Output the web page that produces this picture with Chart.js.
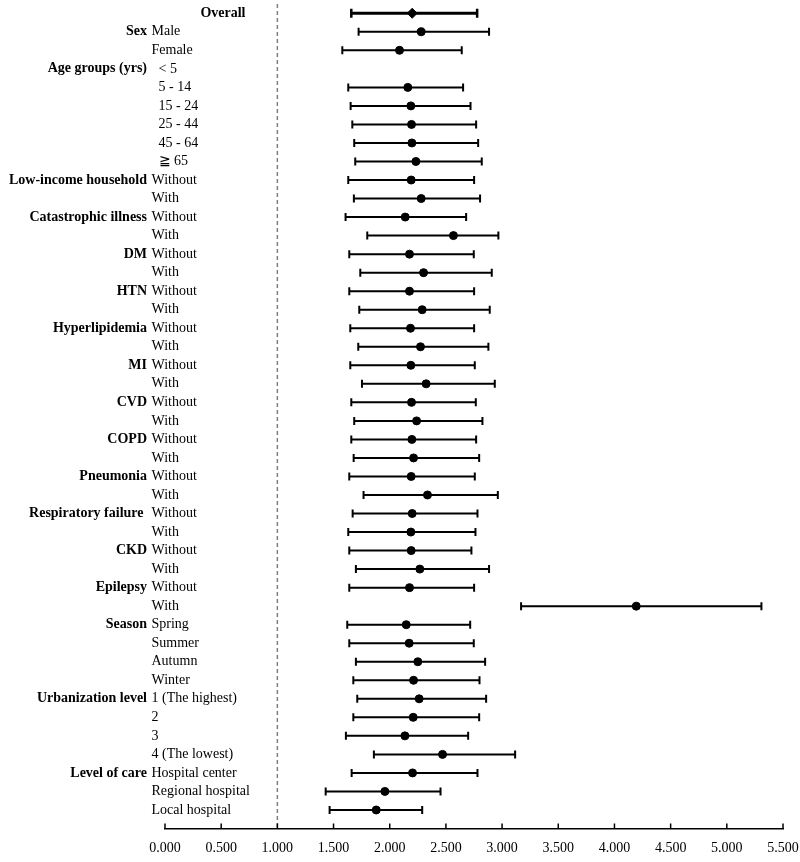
<!DOCTYPE html>
<html><head><meta charset="utf-8">
<script src="https://cdn.jsdelivr.net/npm/chart.js@4/dist/chart.umd.min.js"></script>
<style>html,body{margin:0;padding:0;background:#fff}#wrap{width:800px;height:862px;position:relative}</style>
</head><body><div id="wrap"><canvas id="c"></canvas></div>
<script>
const groups = ['Overall','Sex','','Age groups (yrs)','','','','','','Low-income household','','Catastrophic illness','','DM','','HTN','','Hyperlipidemia','','MI','','CVD','','COPD','','Pneumonia','','Respiratory failure ','','CKD','','Epilepsy','','Season','','','','Urbanization level','','','','Level of care','',''];
const subLabels = ['','Male','Female','< 5','5 - 14','15 - 24','25 - 44','45 - 64','≧ 65','Without','With','Without','With','Without','With','Without','With','Without','With','Without','With','Without','With','Without','With','Without','With','Without','With','Without','With','Without','With','Spring','Summer','Autumn','Winter','1 (The highest)','2','3','4 (The lowest)','Hospital center','Regional hospital','Local hospital'];
const estimates = [2.200,2.280,2.087,null,2.161,2.188,2.194,2.197,2.233,2.191,2.280,2.138,2.567,2.176,2.301,2.176,2.289,2.185,2.274,2.188,2.324,2.194,2.239,2.197,2.212,2.191,2.336,2.200,2.188,2.191,2.268,2.176,4.194,2.147,2.173,2.250,2.212,2.262,2.209,2.135,2.470,2.203,1.957,1.880];
const lowerCI = [1.658,1.723,1.578,null,1.631,1.652,1.667,1.684,1.693,1.631,1.681,1.607,1.800,1.640,1.738,1.640,1.729,1.649,1.720,1.649,1.753,1.658,1.684,1.658,1.679,1.640,1.767,1.670,1.631,1.640,1.699,1.640,3.169,1.622,1.640,1.699,1.676,1.711,1.676,1.610,1.859,1.661,1.430,1.465];
const upperCI = [2.778,2.884,2.641,null,2.653,2.719,2.769,2.787,2.819,2.751,2.804,2.680,2.967,2.748,2.908,2.751,2.890,2.751,2.878,2.757,2.935,2.766,2.825,2.769,2.796,2.757,2.962,2.781,2.763,2.727,2.884,2.751,5.308,2.716,2.748,2.849,2.799,2.858,2.796,2.698,3.116,2.781,2.452,2.289];
const xTickValues = [0,0.5,1,1.5,2,2.5,3,3.5,4,4.5,5,5.5];
const referenceValue = 1;

const FONT = '"Liberation Serif", "Times New Roman", serif';
const ageRows = [3,4,5,6,7,8];

function ciSegments(rows) {
  const out = [];
  rows.forEach(i => {
    if (estimates[i] == null) return;
    out.push({x: lowerCI[i], y: i}, {x: upperCI[i], y: i}, {x: upperCI[i], y: null});
  });
  return out;
}
function caps(rows) {
  const out = [];
  rows.forEach(i => { if (estimates[i] != null) out.push({x: lowerCI[i], y: i}, {x: upperCI[i], y: i}); });
  return out;
}
function pts(rows) {
  return rows.filter(i => estimates[i] != null).map(i => ({x: estimates[i], y: i}));
}
const subRows = estimates.map((_, i) => i).filter(i => i > 0);
const overallRows = [0];

const labelPlugin = {
  id: 'rowLabels',
  afterDraw(chart) {
    const {ctx, chartArea, scales: {x, y}} = chart;
    ctx.save();
    ctx.fillStyle = '#000';
    ctx.textBaseline = 'middle';
    groups.forEach((g, i) => {
      const py = y.getPixelForValue(i);
      if (g) {
        ctx.font = 'bold 14px ' + FONT;
        ctx.textAlign = 'right';
        ctx.fillText(g, i === 0 ? chartArea.left + 80.5 : chartArea.left - 18, py);
      }
      if (subLabels[i]) {
        ctx.font = '14px ' + FONT;
        ctx.textAlign = 'left';
        ctx.fillText(subLabels[i], chartArea.left - (ageRows.includes(i) ? 6.5 : 13.5), py);
      }
    });
    // x-axis tick marks pointing inward
    ctx.strokeStyle = '#000';
    ctx.lineWidth = 1.5;
    x.ticks.forEach(t => {
      const px = x.getPixelForValue(t.value);
      ctx.beginPath();
      ctx.moveTo(px, chartArea.bottom);
      ctx.lineTo(px, chartArea.bottom - 5);
      ctx.stroke();
    });
    ctx.restore();
  }
};

new Chart(document.getElementById('c'), {
  type: 'scatter',
  data: {
    datasets: [
      {label: 'overall point', data: pts(overallRows), pointStyle: 'rectRot', pointRadius: 5, backgroundColor: '#000', borderColor: '#000', order: 0},
      {label: 'point', data: pts(subRows), pointStyle: 'circle', pointRadius: 4, backgroundColor: '#000', borderColor: '#000', order: 1},
      {label: 'overall caps', data: caps(overallRows), pointStyle: 'line', rotation: 90, pointRadius: 4.5, borderWidth: 2.5, borderColor: '#000', order: 2},
      {label: 'caps', data: caps(subRows), pointStyle: 'line', rotation: 90, pointRadius: 4, borderWidth: 2, borderColor: '#000', order: 3},
      {label: 'overall CI', data: ciSegments(overallRows), showLine: true, spanGaps: false, borderColor: '#000', borderWidth: 3, pointRadius: 0, order: 4},
      {label: 'CI', data: ciSegments(subRows), showLine: true, spanGaps: false, borderColor: '#000', borderWidth: 2, pointRadius: 0, order: 5},
      {label: 'ref', data: [{x: referenceValue, y: -0.5}, {x: referenceValue, y: 44}], showLine: true, borderColor: '#808080', borderWidth: 1.5, borderDash: [4, 3], pointRadius: 0, order: 6}
    ]
  },
  options: {
    responsive: true,
    maintainAspectRatio: false,
    animation: false,
    events: [],
    layout: {autoPadding: false, padding: {left: 165, right: 17, top: 4, bottom: 0}},
    plugins: {legend: {display: false}, tooltip: {enabled: false}},
    scales: {
      x: {
        type: 'linear', min: 0, max: 5.5,
        afterBuildTicks: s => { s.ticks = xTickValues.map(v => ({value: v})); },
        afterFit: s => { s.paddingLeft = 0; s.paddingRight = 0; s.height = 33.5; },
        grid: {display: false, drawTicks: false},
        border: {display: true, color: '#000', width: 1.5},
        ticks: {color: '#000', padding: 11, font: {family: FONT, size: 14}, callback: v => Number(v).toFixed(3), maxRotation: 0, autoSkip: false}
      },
      y: {
        type: 'linear', min: -0.5, max: 44, reverse: true, display: false
      }
    }
  },
  plugins: [labelPlugin]
});
</script></body></html>
